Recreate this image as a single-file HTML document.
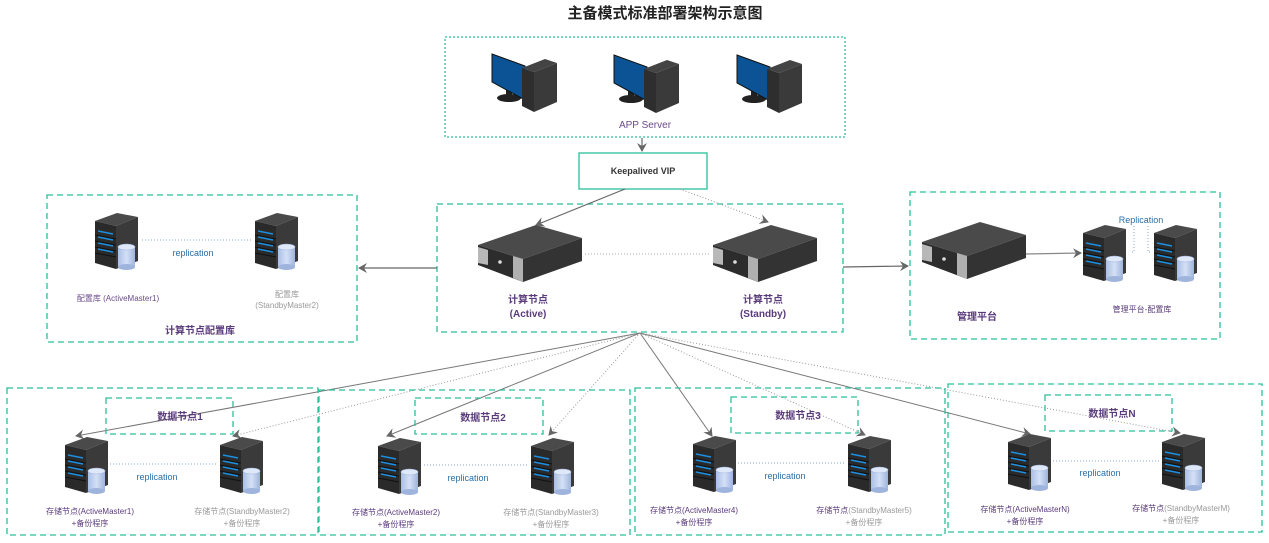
<!DOCTYPE html>
<html><head><meta charset="utf-8"><style>
html,body{margin:0;padding:0;background:#fff;}
svg{display:block;font-family:"Liberation Sans","Noto Sans CJK SC",sans-serif;}
</style></head><body>
<svg width="1269" height="543" viewBox="0 0 1269 543" xmlns="http://www.w3.org/2000/svg">
<defs>
<marker id="ar" markerWidth="10" markerHeight="10" refX="8" refY="5" orient="auto" markerUnits="userSpaceOnUse"><path d="M0,0 L9,5 L0,10 L3,5 z" fill="#666"/></marker>
<linearGradient id="cyl" x1="0" x2="1"><stop offset="0" stop-color="#a9bfe6"/><stop offset="0.5" stop-color="#d4e0f6"/><stop offset="1" stop-color="#9fb4dc"/></linearGradient>
<g id="tower">
<polygon points="0,8 22,0 43,4 21,13" fill="#4a4a4a"/>
<polygon points="0,8 21,13 21,56 0,50" fill="#2a2a2a"/>
<polygon points="21,13 43,4 43,48 21,56" fill="#3a3a3a"/>
<g stroke="#1d8fe0" stroke-width="1.5"><line x1="3" y1="18" x2="18" y2="21"/><line x1="3" y1="24" x2="18" y2="27"/><line x1="3" y1="30" x2="18" y2="33"/><line x1="3" y1="36" x2="18" y2="39"/></g>
<g stroke="#111" stroke-width="1"><line x1="0" y1="22" x2="21" y2="26"/><line x1="0" y1="28" x2="21" y2="32"/><line x1="0" y1="34" x2="21" y2="38"/><line x1="0" y1="40" x2="21" y2="44"/></g>
<rect x="23" y="34" width="17" height="20" fill="url(#cyl)"/>
<ellipse cx="31.5" cy="54" rx="8.5" ry="3" fill="#9fb4dc"/>
<ellipse cx="31.5" cy="34" rx="8.5" ry="3" fill="#dfe8f8" stroke="#9fb4dc" stroke-width="0.6"/>
</g>
<g id="flat">
<polygon points="0,20 58,0 104,13 45,34" fill="#4a4a4a"/>
<polygon points="0,20 45,34 45,57 0,40" fill="#2c2c2c"/>
<polygon points="0,22 10,25 10,40 0,38" fill="#b8b8b8"/>
<polygon points="35,31 45,34 45,57 35,53" fill="#b0b0b0"/>
<polygon points="45,34 104,13 104,36 45,57" fill="#333"/>
<circle cx="22" cy="37" r="1.8" fill="#ddd"/>
</g>
<g id="desk">
<ellipse cx="20" cy="46" rx="12" ry="4" fill="#222"/>
<rect x="17" y="38" width="6" height="8" fill="#222"/>
<polygon points="3,2 36,14 36,48 3,30" fill="#0b5394" stroke="#111" stroke-width="1"/>
<polygon points="33,16 56,7 68,11 45,20" fill="#444"/>
<polygon points="33,16 45,20 45,60 33,54" fill="#2e2e2e"/>
<polygon points="45,20 68,11 68,50 45,60" fill="#3a3a3a"/>
</g>
</defs>

<text x="665" y="18" text-anchor="middle" font-size="15" font-weight="bold" fill="#222">主备模式标准部署架构示意图</text>

<!-- APP box -->
<rect x="445" y="37" width="400" height="100" fill="none" stroke="#2bbf9a" stroke-width="1.3" stroke-dasharray="2,2"/>
<use href="#desk" x="489" y="52"/>
<use href="#desk" x="611" y="53"/>
<use href="#desk" x="734" y="53"/>
<text x="645" y="128" text-anchor="middle" font-size="10" fill="#6a4b8c">APP Server</text>
<line x1="642" y1="138" x2="642" y2="151" stroke="#666" stroke-width="1.2" marker-end="url(#ar)"/>
<rect x="579" y="153" width="128" height="36" fill="#fff" stroke="#2bbf9a" stroke-width="1.3"/>
<text x="643" y="174" text-anchor="middle" font-size="9" font-weight="bold" fill="#333">Keepalived VIP</text>

<!-- Left box -->
<rect x="47" y="195" width="310" height="147" fill="none" stroke="#2bbf9a" stroke-width="1.3" stroke-dasharray="6,4"/>
<use href="#tower" x="95" y="213"/>
<use href="#tower" x="255" y="213"/>
<line x1="142" y1="240" x2="253" y2="240" stroke="#8aaac8" stroke-width="1" stroke-dasharray="1,2"/>
<text x="193" y="256" text-anchor="middle" font-size="9" fill="#2a6ea6">replication</text>
<text x="118" y="301" text-anchor="middle" font-size="8" fill="#6a4b8c">配置库 (ActiveMaster1)</text>
<text x="287" y="297" text-anchor="middle" font-size="8" fill="#999">配置库</text>
<text x="287" y="308" text-anchor="middle" font-size="8" fill="#999">(StandbyMaster2)</text>
<text x="200" y="334" text-anchor="middle" font-size="10" font-weight="bold" fill="#5a3b7c">计算节点配置库</text>

<!-- Center box -->
<rect x="437" y="204" width="406" height="128" fill="none" stroke="#2bbf9a" stroke-width="1.3" stroke-dasharray="6,4"/>
<use href="#flat" x="478" y="225"/>
<use href="#flat" x="713" y="225"/>
<line x1="585" y1="254" x2="710" y2="254" stroke="#aaa" stroke-width="1" stroke-dasharray="1,2"/>
<text x="528" y="303" text-anchor="middle" font-size="10" font-weight="bold" fill="#5a3b7c">计算节点</text>
<text x="528" y="317" text-anchor="middle" font-size="10" font-weight="bold" fill="#5a3b7c">(Active)</text>
<text x="763" y="303" text-anchor="middle" font-size="10" font-weight="bold" fill="#5a3b7c">计算节点</text>
<text x="763" y="317" text-anchor="middle" font-size="10" font-weight="bold" fill="#5a3b7c">(Standby)</text>
<line x1="625" y1="189" x2="536" y2="225" stroke="#666" stroke-width="1.2" marker-end="url(#ar)"/>
<line x1="680" y1="189" x2="768" y2="222" stroke="#999" stroke-width="1" stroke-dasharray="1,2" marker-end="url(#ar)"/>
<line x1="437" y1="268" x2="359" y2="268" stroke="#666" stroke-width="1.2" marker-end="url(#ar)"/>
<line x1="843" y1="267" x2="908" y2="266" stroke="#666" stroke-width="1.2" marker-end="url(#ar)"/>

<!-- Right box -->
<rect x="910" y="192" width="310" height="147" fill="none" stroke="#2bbf9a" stroke-width="1.3" stroke-dasharray="6,4"/>
<use href="#flat" x="922" y="222"/>
<line x1="1026" y1="254" x2="1081" y2="253" stroke="#888" stroke-width="1.2" marker-end="url(#ar)"/>
<use href="#tower" x="1083" y="225"/>
<use href="#tower" x="1154" y="225"/>
<path d="M1134,226 V252 H1130 M1148,226 V252 H1152" fill="none" stroke="#8aaac8" stroke-width="1" stroke-dasharray="1,2"/>
<text x="1141" y="223" text-anchor="middle" font-size="9" fill="#2a6ea6">Replication</text>
<text x="977" y="320" text-anchor="middle" font-size="10" font-weight="bold" fill="#5a3b7c">管理平台</text>
<text x="1142" y="312" text-anchor="middle" font-size="8" fill="#5a3b7c">管理平台-配置库</text>

<!-- fan lines -->
<g stroke-width="1" fill="none">
<line x1="640" y1="333" x2="76" y2="436" stroke="#777" marker-end="url(#ar)"/>
<line x1="640" y1="333" x2="233" y2="436" stroke="#999" stroke-dasharray="1,2" marker-end="url(#ar)"/>
<line x1="640" y1="333" x2="387" y2="436" stroke="#777" marker-end="url(#ar)"/>
<line x1="640" y1="333" x2="549" y2="435" stroke="#999" stroke-dasharray="1,2" marker-end="url(#ar)"/>
<line x1="640" y1="333" x2="712" y2="436" stroke="#777" marker-end="url(#ar)"/>
<line x1="640" y1="333" x2="865" y2="435" stroke="#999" stroke-dasharray="1,2" marker-end="url(#ar)"/>
<line x1="640" y1="333" x2="1030" y2="434" stroke="#777" marker-end="url(#ar)"/>
<line x1="640" y1="333" x2="1180" y2="433" stroke="#999" stroke-dasharray="1,2" marker-end="url(#ar)"/>
</g>

<!-- bottom boxes -->
<g fill="none" stroke="#2bbf9a" stroke-width="1.3" stroke-dasharray="6,4">
<rect x="7" y="388" width="311" height="147"/>
<rect x="319" y="390" width="311" height="145"/>
<rect x="635" y="388" width="310" height="147"/>
<rect x="948" y="384" width="314" height="148"/>
<rect x="106" y="398" width="127" height="36"/>
<rect x="415" y="398" width="128" height="36"/>
<rect x="731" y="397" width="127" height="36"/>
<rect x="1045" y="395" width="127" height="36"/>
</g>
<g font-size="10" font-weight="bold" fill="#5a3b7c" text-anchor="middle">
<text x="180" y="420">数据节点1</text>
<text x="483" y="421">数据节点2</text>
<text x="798" y="419">数据节点3</text>
<text x="1112" y="417">数据节点N</text>
</g>
<use href="#tower" x="65" y="437"/>
<use href="#tower" x="220" y="437"/>
<use href="#tower" x="378" y="438"/>
<use href="#tower" x="531" y="438"/>
<use href="#tower" x="693" y="436"/>
<use href="#tower" x="848" y="436"/>
<use href="#tower" x="1008" y="434"/>
<use href="#tower" x="1162" y="434"/>
<g stroke="#8aaac8" stroke-width="1" stroke-dasharray="1,2">
<line x1="110" y1="464" x2="218" y2="464"/>
<line x1="424" y1="465" x2="529" y2="465"/>
<line x1="738" y1="463" x2="846" y2="463"/>
<line x1="1053" y1="461" x2="1160" y2="461"/>
</g>
<g font-size="9" fill="#2a6ea6" text-anchor="middle">
<text x="157" y="480">replication</text>
<text x="468" y="481">replication</text>
<text x="785" y="479">replication</text>
<text x="1100" y="476">replication</text>
</g>
<g font-size="8" text-anchor="middle">
<text x="90" y="514" fill="#5a3b7c">存储节点(ActiveMaster1)</text>
<text x="90" y="526" fill="#5a3b7c">+备份程序</text>
<text x="242" y="514" fill="#999">存储节点(StandbyMaster2)</text>
<text x="242" y="526" fill="#999">+备份程序</text>
<text x="396" y="515" fill="#5a3b7c">存储节点(ActiveMaster2)</text>
<text x="396" y="527" fill="#5a3b7c">+备份程序</text>
<text x="551" y="515" fill="#999">存储节点(StandbyMaster3)</text>
<text x="551" y="527" fill="#999">+备份程序</text>
<text x="694" y="513" fill="#5a3b7c">存储节点(ActiveMaster4)</text>
<text x="694" y="525" fill="#5a3b7c">+备份程序</text>
<text x="864" y="513"><tspan fill="#5a3b7c">存储节点</tspan><tspan fill="#999">(StandbyMaster5)</tspan></text>
<text x="864" y="525" fill="#999">+备份程序</text>
<text x="1025" y="512" fill="#5a3b7c">存储节点(ActiveMasterN)</text>
<text x="1025" y="524" fill="#5a3b7c">+备份程序</text>
<text x="1181" y="511"><tspan fill="#5a3b7c">存储节点</tspan><tspan fill="#999">(StandbyMasterM)</tspan></text>
<text x="1181" y="523" fill="#999">+备份程序</text>
</g>
</svg>
</body></html>
